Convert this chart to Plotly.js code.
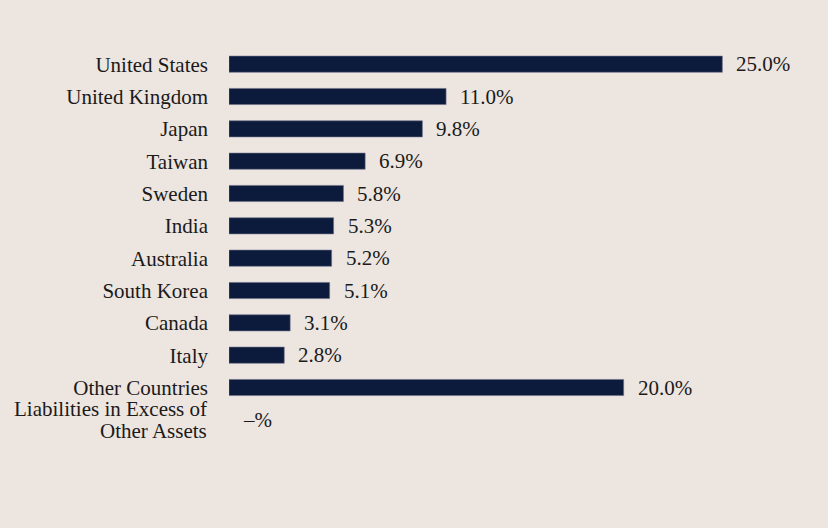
<!DOCTYPE html>
<html>
<head>
<meta charset="utf-8">
<script src="https://cdn.plot.ly/plotly-3.0.1.min.js"></script>
<style>
  html, body { margin: 0; padding: 0; background: #EDE5E0; }
  #chart { width: 828px; height: 528px; }
</style>
</head>
<body>
<div id="chart"></div>
<script>
// Portfolio allocation by country (% of net assets)
const countries = [
  "United States", "United Kingdom", "Japan", "Taiwan", "Sweden", "India",
  "Australia", "South Korea", "Canada", "Italy", "Other Countries",
  "Liabilities in Excess of Other Assets"
];
// Category names drawn on two lines, set tighter than the default line height
const wrappedNames = {
  "Liabilities in Excess of Other Assets": ["Liabilities in Excess of", "Other Assets"]
};
const weights = [25.0, 11.0, 9.8, 6.9, 5.8, 5.3, 5.2, 5.1, 3.1, 2.8, 20.0, 0];
const weightLabels = ["25.0%", "11.0%", "9.8%", "6.9%", "5.8%", "5.3%",
  "5.2%", "5.1%", "3.1%", "2.8%", "20.0%", "–%"];

const fontFamily = "Liberation Serif, Times New Roman, serif";
const textFont = { family: fontFamily, size: 21, color: "#1a1a1a" };

const trace = {
  type: "bar",
  orientation: "h",
  x: weights,
  y: countries,
  marker: {
    color: "#0C1A3C",
    line: { color: "#6B7088", width: weights.map(v => (v > 0 ? 0.6 : 0)) }
  },
  width: 0.5,
  hoverinfo: "skip"
};

// Value labels just past the end of each bar
const annotations = weights.map((v, i) => ({
  x: v,
  y: countries[i],
  xref: "x",
  yref: "y",
  text: weightLabels[i],
  showarrow: false,
  xanchor: "left",
  yanchor: "middle",
  xshift: 12,
  font: textFont
}));

// Two-line category names
countries.forEach(name => {
  const lines = wrappedNames[name];
  if (!lines) return;
  const step = 22;
  lines.forEach((line, k) => {
    annotations.push({
      x: 0,
      y: name,
      xref: "x",
      yref: "y",
      text: line,
      showarrow: false,
      xanchor: "right",
      yanchor: "middle",
      xshift: -20,
      yshift: ((lines.length - 1) / 2 - k) * step,
      font: textFont
    });
  });
});

const layout = {
  width: 828,
  height: 528,
  paper_bgcolor: "#EDE5E0",
  plot_bgcolor: "#EDE5E0",
  margin: { l: 229, r: 7, t: 48, b: 92, pad: 0, autoexpand: false },
  showlegend: false,
  xaxis: {
    range: [0, 30],
    visible: false,
    automargin: false,
    fixedrange: true
  },
  yaxis: {
    type: "category",
    range: [countries.length - 0.5, -0.5],
    automargin: false,
    showgrid: false,
    zeroline: false,
    showline: false,
    ticks: "",
    tickmode: "array",
    tickvals: countries,
    ticktext: countries.map(c => (wrappedNames[c] ? "" : c)),
    ticklabelstandoff: 20,
    tickfont: textFont,
    fixedrange: true
  },
  annotations: annotations
};

Plotly.newPlot("chart", [trace], layout, { displayModeBar: false, staticPlot: true });
</script>
</body>
</html>
